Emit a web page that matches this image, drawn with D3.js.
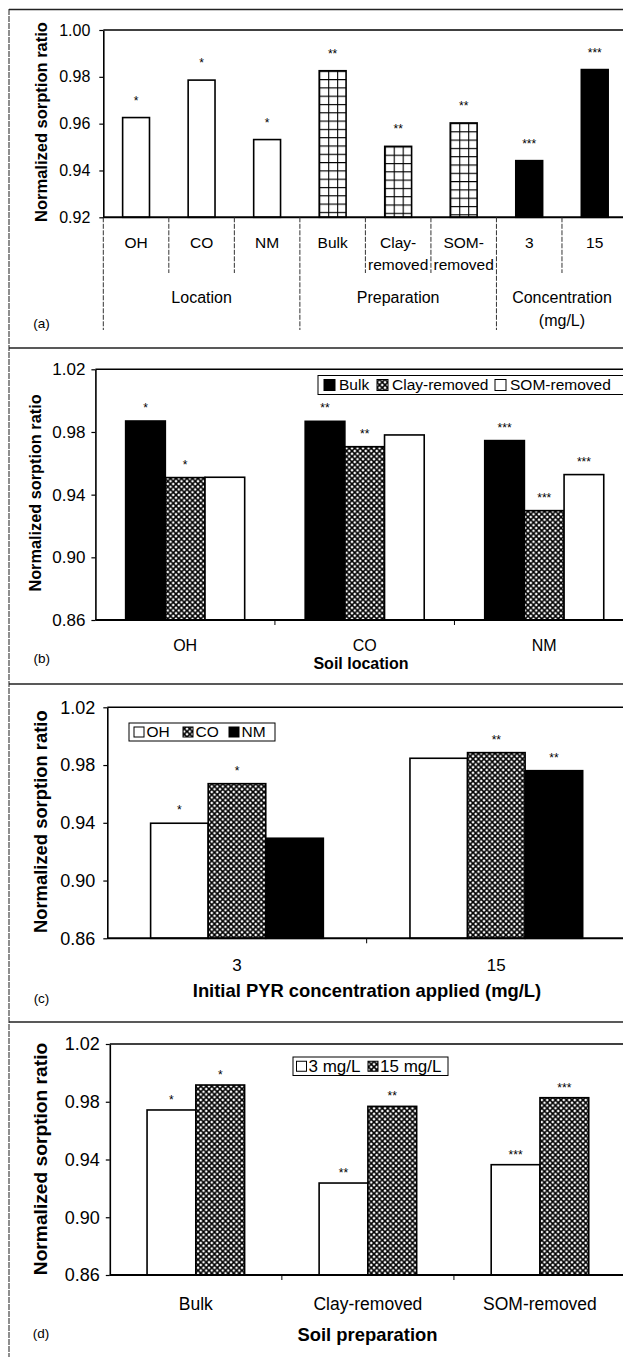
<!DOCTYPE html>
<html><head><meta charset="utf-8">
<script src="https://cdn.jsdelivr.net/npm/d3@7"></script>
<style>body{margin:0;background:#fff}svg{display:block}</style>
</head><body><svg id="chart" width="623" height="1357"></svg>
<script>
// ---------------- DATA ----------------
// Panel (a)
const aCategories = ["OH","CO","NM","Bulk","Clay-removed","SOM-removed","3","15"];
const aCategoryLines = [["OH"],["CO"],["NM"],["Bulk"],["Clay-","removed"],["SOM-","removed"],["3"],["15"]];
const aGroupIndex = [0,0,0,1,1,1,2,2];
const aGroupLines = [["Location"],["Preparation"],["Concentration","(mg/L)"]];
const aValues = [0.9626,0.9786,0.9532,0.9826,0.9503,0.9603,0.9442,0.9831];
const aStars = ["*","*","*","**","**","**","***","***"];
const aTicks = [0.92,0.94,0.96,0.98,1.00];

// Panel (b)
const bLocations = ["OH","CO","NM"];
const bSeriesNames = ["Bulk","Clay-removed","SOM-removed"];
const bBulk = [0.9870,0.9868,0.9745];
const bClayRemoved = [0.9509,0.9706,0.9298];
const bSomRemoved = [0.9511,0.9781,0.9528];
const bBulkStars = ["*","**","***"];
const bClayStars = ["*","**","***"];
const bSomStars = ["","","***"];
const bTicks = [0.86,0.90,0.94,0.98,1.02];

// Panel (c)
const cConcentrations = ["3","15"];
const cSeriesNames = ["OH","CO","NM"];
const cOH = [0.9397,0.9847];
const cCO = [0.9671,0.9886];
const cNM = [0.9293,0.9761];
const cOHStars = ["*",""];
const cCOStars = ["*","**"];
const cNMStars = ["","**"];
const cTicks = [0.86,0.90,0.94,0.98,1.02];

// Panel (d)
const dPreparations = ["Bulk","Clay-removed","SOM-removed"];
const dSeriesNames = ["3 mg/L","15 mg/L"];
const d3mg = [0.9743,0.9237,0.9364];
const d15mg = [0.9916,0.9768,0.9828];
const d3mgStars = ["*","**","***"];
const d15mgStars = ["*","**","***"];
const dTicks = [0.86,0.90,0.94,0.98,1.02];

// ---------------- DRAWING ----------------
const W = 623, H = 1357;
const FONT = '"Liberation Sans", Arial, Helvetica, sans-serif';
const svg = d3.select("#chart");
svg.append("rect").attr("width", W).attr("height", H).attr("fill", "#fff");
const defs = svg.append("defs");

// crosshatch pattern
const xh = defs.append("pattern").attr("id", "xh").attr("patternUnits", "userSpaceOnUse")
  .attr("width", 5.5).attr("height", 5.5);
xh.append("rect").attr("width", 5.5).attr("height", 5.5).attr("fill", "#fff");
xh.append("path").attr("d", "M0,0L5.5,5.5M5.5,0L0,5.5").attr("stroke", "#000").attr("stroke-width", 1.6);

const fills = { white: "#fff", black: "#000", hatch: "url(#xh)" };

function text(g, x, y, s, size, opts = {}) {
  return g.append("text")
    .attr("x", x).attr("y", y + size * 0.35)
    .attr("font-family", FONT).attr("font-size", size)
    .attr("font-weight", opts.bold ? "bold" : "normal")
    .attr("text-anchor", opts.anchor || "middle")
    .attr("fill", "#000").text(s);
}
function yTitle(g, x, y, size) {
  g.append("text").attr("transform", `translate(${x},${y}) rotate(-90)`)
    .attr("dy", "0.35em")
    .attr("font-family", FONT).attr("font-size", size).attr("font-weight", "bold")
    .attr("text-anchor", "middle").attr("fill", "#000").text("Normalized sorption ratio");
}

// outer frame
svg.append("line").attr("x1", 9).attr("x2", 9).attr("y1", 9).attr("y2", H)
  .attr("stroke", "#444").attr("stroke-width", 1.2).attr("stroke-dasharray", "6,1");
[9.5, 348, 684, 1022].forEach(yy => {
  svg.append("line").attr("x1", 9).attr("x2", W).attr("y1", yy).attr("y2", yy)
    .attr("stroke", "#222").attr("stroke-width", 1.6);
});

function yAxis(g, y, xLeft, ticks, size, pad) {
  const ax = g.append("g").attr("transform", `translate(${xLeft},0)`)
    .call(d3.axisLeft(y).tickValues(ticks).tickFormat(d3.format(".2f")).tickSize(4).tickSizeOuter(0).tickPadding(pad));
  ax.select(".domain").attr("stroke", "#000").attr("stroke-width", 1.6);
  ax.selectAll(".tick line").attr("stroke", "#000").attr("stroke-width", 1.2);
  ax.selectAll("text").attr("font-family", FONT).attr("font-size", size).attr("fill", "#000");
}

// ---------- Panel (a) ----------
(function () {
  const g = svg.append("g");
  const yTop = 30, yBot = 217.3, xL = 103.3, xR = 627.5;
  const y = d3.scaleLinear().domain([0.92, 1.00]).range([yBot, yTop]);
  const xb = d3.scaleBand().domain(aCategories).range([xL, xR]);
  const bw = xb.bandwidth() * 0.41;
  const off = (xb.bandwidth() - bw) / 2;

  // top frame
  g.append("line").attr("x1", xL).attr("x2", W + 5).attr("y1", yTop).attr("y2", yTop)
    .attr("stroke", "#000").attr("stroke-width", 1.6);

  // grid patterns for preparation bars
  aCategories.forEach((cat, i) => {
    if (aGroupIndex[i] !== 1) return;
    const px = xb(cat) + off, py = y(aValues[i]);
    const pw = bw / 3, ph = 8.3;
    const p = defs.append("pattern").attr("id", "grid" + i).attr("patternUnits", "userSpaceOnUse")
      .attr("x", px).attr("y", py).attr("width", pw).attr("height", ph);
    p.append("rect").attr("width", pw).attr("height", ph).attr("fill", "#fff");
    p.append("path").attr("d", `M0,0V${ph}M0,0H${pw}`).attr("stroke", "#000").attr("stroke-width", 2.2);
  });

  const groupFill = i => aGroupIndex[i] === 0 ? fills.white : aGroupIndex[i] === 1 ? `url(#grid${i})` : fills.black;
  g.selectAll(".bar").data(aCategories).join("rect")
    .attr("x", d => xb(d) + off).attr("width", bw)
    .attr("y", (d, i) => y(aValues[i])).attr("height", (d, i) => yBot - y(aValues[i]))
    .attr("fill", (d, i) => groupFill(i)).attr("stroke", "#000").attr("stroke-width", 1.6);

  g.selectAll(".star").data(aCategories).join("text")
    .attr("x", d => xb(d) + xb.bandwidth() / 2).attr("y", (d, i) => y(aValues[i]) - 13)
    .attr("font-family", FONT).attr("font-size", 12).attr("text-anchor", "middle")
    .text((d, i) => aStars[i]);

  // x axis
  g.append("line").attr("x1", xL).attr("x2", W + 5).attr("y1", yBot).attr("y2", yBot)
    .attr("stroke", "#000").attr("stroke-width", 2);
  // dividers
  const step = xb.step();
  for (let i = 0; i <= aCategories.length; i++) {
    const xx = xL + i * step;
    const isGroup = i === 0 || i === aCategories.length || aGroupIndex[i] !== aGroupIndex[i - 1];
    g.append("line").attr("x1", xx).attr("x2", xx).attr("y1", yBot).attr("y2", isGroup ? 330 : 273)
      .attr("stroke", "#333").attr("stroke-width", 1).attr("stroke-dasharray", "5,1.5");
  }
  // category labels
  aCategories.forEach((cat, i) => {
    aCategoryLines[i].forEach((ln, k) => text(g, xb(cat) + xb.bandwidth() / 2, 243 + k * 21.5, ln, 15.5));
  });
  // group labels
  aGroupLines.forEach((lines, gi) => {
    const members = aCategories.filter((c, i) => aGroupIndex[i] === gi);
    const x0 = xb(members[0]), x1 = xb(members[members.length - 1]) + xb.bandwidth();
    lines.forEach((ln, k) => text(g, (x0 + x1) / 2, 297.7 + k * 23, ln, 16));
  });

  yAxis(g, y, xL, aTicks, 16, 9);
  yTitle(g, 41.5, 122, 16.5);
  text(g, 41.5, 323, "(a)", 13.5);
})();

// ---------- generic grouped panel ----------
function grouped(c) {
  const g = svg.append("g");
  const y = d3.scaleLinear().domain([0.86, 1.02]).range([c.yBot, c.yTop]);
  const x0 = d3.scaleBand().domain(c.cats).range([c.xL, c.xR]);
  const inner = x0.bandwidth() * c.frac;
  const off = (x0.bandwidth() - inner) / 2;
  const x1 = d3.scaleBand().domain(c.series.map(s => s.name)).range([0, inner]);

  g.append("line").attr("x1", c.xL).attr("x2", W + 5).attr("y1", c.yTop).attr("y2", c.yTop)
    .attr("stroke", "#000").attr("stroke-width", 1.6);

  c.series.forEach(s => {
    const rows = c.cats.map((cat, i) => ({ cat, v: s.values[i], st: s.stars[i] }));
    g.selectAll(null).data(rows).join("rect")
      .attr("x", d => x0(d.cat) + off + x1(s.name)).attr("width", x1.bandwidth())
      .attr("y", d => y(d.v)).attr("height", d => c.yBot - y(d.v))
      .attr("fill", s.fill).attr("stroke", "#000").attr("stroke-width", 1.6);
    g.selectAll(null).data(rows).join("text")
      .attr("x", d => x0(d.cat) + off + x1(s.name) + x1.bandwidth() / 2)
      .attr("y", d => y(d.v) - c.starGap)
      .attr("font-family", FONT).attr("font-size", 12).attr("text-anchor", "middle")
      .text(d => d.st);
  });

  // x axis line and boundary ticks
  g.append("line").attr("x1", c.xL).attr("x2", W + 5).attr("y1", c.yBot).attr("y2", c.yBot)
    .attr("stroke", "#000").attr("stroke-width", 2);
  c.cats.forEach((cat, i) => {
    if (i === 0) return;
    g.append("line").attr("x1", x0(cat)).attr("x2", x0(cat)).attr("y1", c.yBot).attr("y2", c.yBot + 5)
      .attr("stroke", "#000").attr("stroke-width", 1);
  });
  c.cats.forEach(cat => text(g, x0(cat) + x0.bandwidth() / 2, c.catY, cat, c.catFont));
  text(g, c.titleX, c.titleY, c.title, c.titleFont, { bold: true });

  yAxis(g, y, c.xL, c.ticks, c.tickFont, c.tickPad);
  yTitle(g, c.yTitleX, c.yTitleY, c.yTitleFont);
  text(g, c.tagX, c.tagY, c.tag, 13.5);

  // legend
  const L = c.legend;
  g.append("rect").attr("x", L.x).attr("y", L.y).attr("width", L.w).attr("height", L.h)
    .attr("fill", "#fff").attr("stroke", "#000").attr("stroke-width", 1);
  c.series.forEach((s, i) => {
    const it = L.items[i];
    g.append("rect").attr("x", it.sx).attr("y", L.y + L.h / 2 - L.sw / 2).attr("width", L.sw).attr("height", L.sw)
      .attr("fill", s.fill).attr("stroke", "#000").attr("stroke-width", 1);
    text(g, it.tx, L.y + L.h / 2, s.name, L.font, { anchor: "start" });
  });
}

// ---------- Panel (b) ----------
grouped({
  cats: bLocations,
  series: [
    { name: bSeriesNames[0], values: bBulk, stars: bBulkStars, fill: fills.black },
    { name: bSeriesNames[1], values: bClayRemoved, stars: bClayStars, fill: fills.hatch },
    { name: bSeriesNames[2], values: bSomRemoved, stars: bSomStars, fill: fills.white }
  ],
  xL: 95.4, xR: 634, yTop: 369.3, yBot: 620, frac: 0.663, starGap: 9,
  ticks: bTicks, tickFont: 17, tickPad: 6,
  catY: 645, catFont: 16,
  title: "Soil location", titleX: 361, titleY: 663.3, titleFont: 16,
  yTitleX: 35.7, yTitleY: 493, yTitleFont: 16.3,
  tag: "(b)", tagX: 41.7, tagY: 658,
  legend: { x: 318, y: 375.5, w: 320, h: 19, sw: 11, font: 15.5,
    items: [{ sx: 324, tx: 339 }, { sx: 377, tx: 392 }, { sx: 495, tx: 510 }] }
});

// ---------- Panel (c) ----------
grouped({
  cats: cConcentrations,
  series: [
    { name: cSeriesNames[0], values: cOH, stars: cOHStars, fill: fills.white },
    { name: cSeriesNames[1], values: cCO, stars: cCOStars, fill: fills.hatch },
    { name: cSeriesNames[2], values: cNM, stars: cNMStars, fill: fills.black }
  ],
  xL: 107.3, xR: 626, yTop: 707.3, yBot: 938.3, frac: 0.666, starGap: 9,
  ticks: cTicks, tickFont: 18, tickPad: 8,
  catY: 965, catFont: 17,
  title: "Initial PYR concentration applied (mg/L)", titleX: 367, titleY: 991, titleFont: 18.4,
  yTitleX: 40.7, yTitleY: 821.7, yTitleFont: 18.4,
  tag: "(c)", tagX: 41.5, tagY: 998,
  legend: { x: 129, y: 723, w: 146, h: 18, sw: 10, font: 15.5,
    items: [{ sx: 134, tx: 146.5 }, { sx: 183, tx: 195.5 }, { sx: 229, tx: 241.5 }] }
});

// ---------- Panel (d) ----------
grouped({
  cats: dPreparations,
  series: [
    { name: dSeriesNames[0], values: d3mg, stars: d3mgStars, fill: fills.white },
    { name: dSeriesNames[1], values: d15mg, stars: d15mgStars, fill: fills.hatch }
  ],
  xL: 109.8, xR: 626, yTop: 1044, yBot: 1275, frac: 0.567, starGap: 6,
  ticks: dTicks, tickFont: 18, tickPad: 6,
  catY: 1304, catFont: 17.5,
  title: "Soil preparation", titleX: 367.5, titleY: 1335, titleFont: 18.4,
  yTitleX: 40, yTitleY: 1159, yTitleFont: 19.2,
  tag: "(d)", tagX: 41, tagY: 1333,
  legend: { x: 293, y: 1057, w: 155, h: 18.5, sw: 10, font: 17,
    items: [{ sx: 296.5, tx: 308.5 }, { sx: 368, tx: 380 }] }
});
</script>
</body></html>
